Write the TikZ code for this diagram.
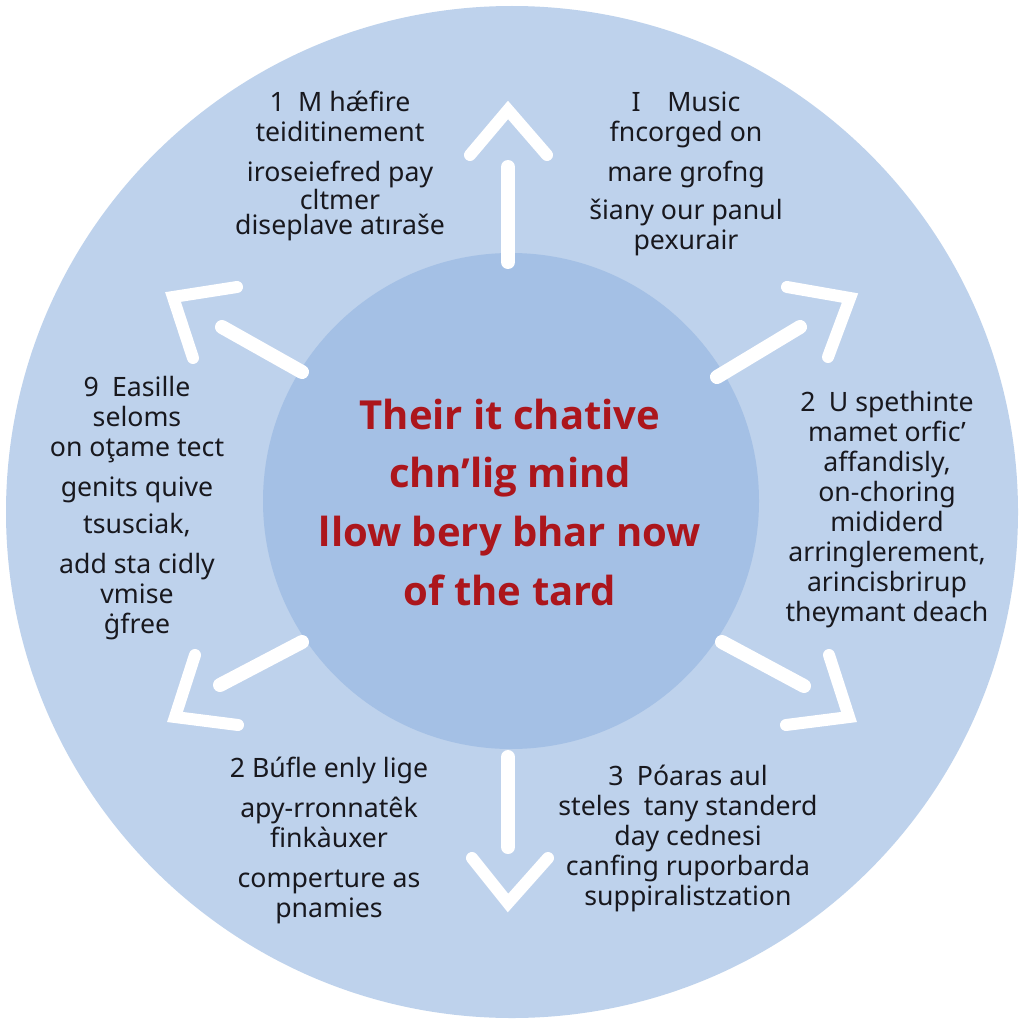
\documentclass[tikz,border=0pt]{standalone}
\usepackage{fontspec}
\setmainfont{Noto Sans}
\newfontfamily\hubfont{Open Sans}
\definecolor{outerblue}{RGB}{190,210,236}
\definecolor{innerblue}{RGB}{164,192,229}
\definecolor{titlered}{RGB}{172,22,28}
\definecolor{inktext}{RGB}{24,24,30}
\tikzset{
  shaft/.style={draw=white, line width=10.5pt, line cap=round},
  chevron/.style={draw=white, line width=9pt, line cap=round, line join=miter},
  blurb/.style={align=center, text=inktext, inner sep=0.75pt, font=\fontsize{20}{22.5}\selectfont},
  hubtext/.style={align=center, text=titlered, inner sep=0.75pt, font=\hubfont\bfseries\fontsize{30}{44}\selectfont},
}
\begin{document}
\begin{tikzpicture}[x=0.75pt,y=0.75pt,yscale=-1,xscale=1]
%set diagram to the full square
\useasboundingbox (0,0) rectangle (1024,1024);
\fill[white] (0,0) rectangle (1024,1024);

%Shape: Circle outer disc
\fill[outerblue] (512,512) circle (506);
%Shape: Circle inner disc
\fill[innerblue] (511,501) circle (248);

%Arrows: up
\draw[shaft] (508,262) -- (508,167);
\draw[chevron] (470,155) -- (508,110) -- (547,155);
%Arrows: upper right
\draw[shaft] (717,377) -- (800,327);
\draw[chevron] (787,287) -- (850,298) -- (828,357);
%Arrows: lower right
\draw[shaft] (722,642) -- (804,686);
\draw[chevron] (829,655) -- (849,717) -- (786,725);
%Arrows: down
\draw[shaft] (508,757) -- (508,847);
\draw[chevron] (472,858) -- (508,903) -- (548,858);
%Arrows: lower left
\draw[shaft] (302,642) -- (220,685);
\draw[chevron] (195,655) -- (175,717) -- (238,725);
%Arrows: upper left
\draw[shaft] (302,372) -- (222,327);
\draw[chevron] (237,287) -- (173,297) -- (193,358);

% Text Node
\node[hubtext] (hub) at (510,502) {Their it chative\\chn’lig mind\\llow bery bhar now\\of the tard};
% Text Node
\node[blurb] (topleft) at (340,166) {1\enspace M hǽfire\\teiditinement\\[7.5pt]iroseiefred pay\\[-1.5pt]cltmer\\[-3.5pt]diseplave atıraše};
% Text Node
\node[blurb] (topright) at (686,174) {I\quad Music\\fncorged on\\[7.5pt]mare grofng\\[6pt]šiany our panul\\pexurair};
% Text Node
\node[blurb] (left) at (137,508) {9\enspace Easille\\seloms\\on oţame tect\\[7.5pt]genits quive\\[5pt]tsusciak,\\[7.5pt]add sta cidly\\vmise\\ġfree};
% Text Node
\node[blurb] (right) at (887,510) {2\enspace U spethinte\\mamet orfic’\\affandisly,\\on-choring\\mididerd\\arringlerement,\\arincisbrirup\\theymant deach};
% Text Node
\node[blurb] (bottomleft) at (329,840) {2 Búfle enly lige\\[7.5pt]apy-rronnatêk\\finkàuxer\\[7.5pt]comperture as\\pnamies};
% Text Node
\node[blurb] (bottomright) at (688,838) {3\enspace Póaras aul\\steles\enspace tany standerd\\day cednesi\\canfing ruporbarda\\suppiralistzation};
\end{tikzpicture}
\end{document}
